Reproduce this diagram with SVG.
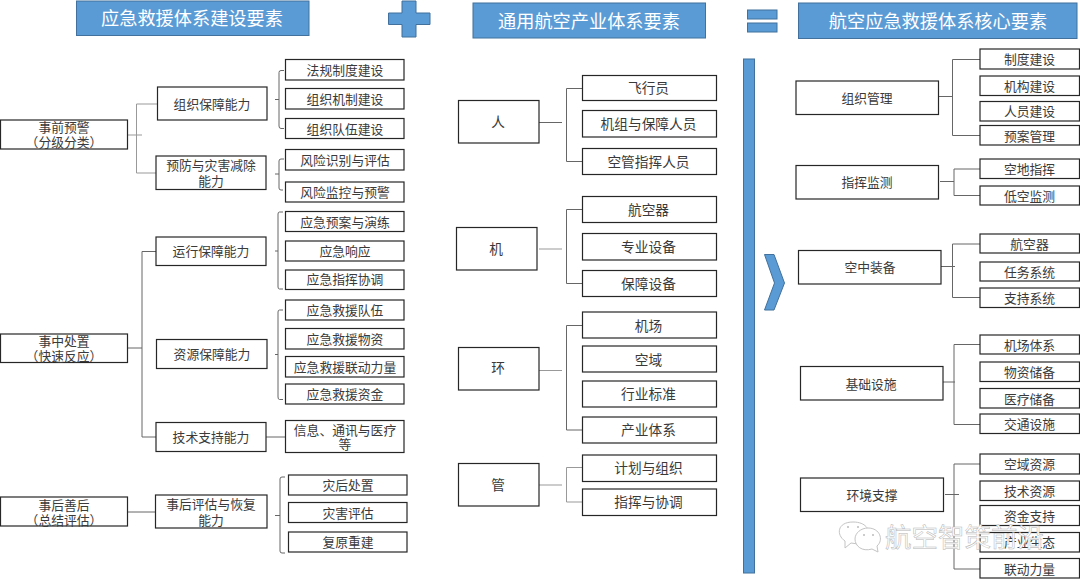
<svg xmlns="http://www.w3.org/2000/svg" width="1080" height="584" viewBox="0 0 1080 584">
<style>
text{font-family:"Liberation Sans","Noto Sans CJK SC",sans-serif;font-size:12.8px;fill:#3a3a3a;text-anchor:middle}
.n rect{fill:#fff;stroke:#262626;stroke-width:1.2}
.m text{font-size:13.7px}
.h rect{fill:#5b9bd5;stroke:#41719c;stroke-width:1}
.h text{font-size:18.2px;fill:#fff}
.b{fill:#5b9bd5;stroke:#41719c;stroke-width:1}
#connectors path{fill:none;stroke:#666;stroke-width:1}
#connectors path.g{stroke:#999}
.wm{font-size:26.5px;fill:#fff;stroke:#b5b5b5;stroke-width:.5;text-anchor:start}
.w{fill:#fff;stroke:#c4c4c4;stroke-width:1}
.d{fill:#bbb}
</style>
<rect width="1080" height="584" fill="#fff"/>
<g class="h" id="h1"><rect x="76.500" y="1" width="232.500" height="34.500"/><text x="192" y="25">应急救援体系建设要素</text></g>
<g class="h" id="h2"><rect x="473" y="3" width="232.500" height="35"/><text x="589" y="28">通用航空产业体系要素</text></g>
<g class="h" id="h3"><rect x="798.500" y="3" width="278.500" height="35.500"/><text x="938" y="28">航空应急救援体系核心要素</text></g>
<path id="plus" class="b" d="M402 1H416V13H430V24.500H416V37H402V24.500H388.500V13H402Z"/>
<g id="equals"><rect class="b" x="747.500" y="10" width="29.500" height="9"/><rect class="b" x="747.500" y="23" width="29.500" height="9"/></g>
<rect id="bar" class="b" x="743.500" y="59" width="11" height="514"/>
<path id="chevron" class="b" d="M764.500 254.500H774L784.500 283L774 310H764.500L774.500 283Z"/>

<g id="connectors">
<path d="M127.500 135H142M136.500 104V173M136.500 104H157.500M136.500 173H156" class="g"/>
<path d="M127.500 348H142M142 251.500V437M142 251.500H156M142 437H156"/>
<path d="M127.500 512H155"/>
<path d="M275 99.500H279M284 70.500H281Q279 70.500 279 72.500V126Q279 128.500 281 128.500H284"/>
<path d="M275 174H279M284 159H281Q279 159 279 161V188Q279 190 281 190H283"/>
<path d="M275 251H278M283 212H279.500Q278 212 278 214V287Q278 289 279.500 289H283"/>
<path d="M275 354.500H278M283 310H279.500Q278 310 278 312V397Q278 399.500 279.500 399.500H283"/>
<path d="M266 437H285.500"/>
<path d="M275 515.500H280M285 477H282Q280 477 280 479V551Q280 553 282 553H285"/>
<path d="M539 122.500H562M584 88.500H566.500V161.500H582"/>
<path class="g" d="M539 249H562"/>
<path d="M584 209.500H566.500V283.500H582"/>
<path class="g" d="M539 370.500H562"/>
<path d="M584 325.500H566.500V430H582"/>
<path class="g" d="M539 485H562M584 467.500H566.500V502H582"/>
<path d="M939 96.500H952M980 59.500H952.500V135.500H980"/>
<path d="M940 181.500H954M982 169H954V195.500H980"/>
<path d="M941 266.500H955M980 244H952.500V297.500H984"/>
<path d="M943 382H955M980 344.500H954V424.500H980"/>
<path d="M945 494.500H959M982 464H954V569H980"/>
</g>

<g class="n" id="n1"><rect x="0.500" y="120" width="127" height="29"/><text x="64" y="132">事前预警</text><text x="64" y="147">（分级分类）</text></g>
<g class="n" id="n2"><rect x="0.500" y="334" width="127" height="28.500"/><text x="64" y="346">事中处置</text><text x="64" y="361">（快速反应）</text></g>
<g class="n" id="n3"><rect x="0.500" y="497" width="127" height="29"/><text x="64" y="510">事后善后</text><text x="64" y="525">（总结评估）</text></g>
<g class="n" id="n4"><rect x="157.500" y="87" width="109.500" height="33"/><text x="212" y="109">组织保障能力</text></g>
<g class="n" id="n5"><rect x="156" y="156" width="110" height="33.500"/><text x="211" y="170">预防与灾害减除</text><text x="211" y="186">能力</text></g>
<g class="n" id="n6"><rect x="156" y="237" width="110" height="28.500"/><text x="211" y="256">运行保障能力</text></g>
<g class="n" id="n7"><rect x="156.500" y="339.500" width="110.500" height="29"/><text x="212" y="359">资源保障能力</text></g>
<g class="n" id="n8"><rect x="156" y="422.500" width="110" height="29"/><text x="211" y="442">技术支持能力</text></g>
<g class="n" id="n9"><rect x="155.500" y="495" width="111.500" height="33"/><text x="211" y="509">事后评估与恢复</text><text x="211" y="525">能力</text></g>
<g class="n" id="n10"><rect x="285.500" y="59.500" width="118.500" height="20.500"/><text x="345" y="75">法规制度建设</text></g>
<g class="n" id="n11"><rect x="285.500" y="88.500" width="118.500" height="20.500"/><text x="345" y="104">组织机制建设</text></g>
<g class="n" id="n12"><rect x="285.500" y="118.500" width="118.500" height="20"/><text x="345" y="134">组织队伍建设</text></g>
<g class="n" id="n13"><rect x="285.500" y="149.500" width="118.500" height="20.500"/><text x="345" y="165">风险识别与评估</text></g>
<g class="n" id="n14"><rect x="285.500" y="182" width="118.500" height="20"/><text x="345" y="197">风险监控与预警</text></g>
<g class="n" id="n15"><rect x="285.500" y="211.500" width="118.500" height="20"/><text x="345" y="227">应急预案与演练</text></g>
<g class="n" id="n16"><rect x="285.500" y="241" width="118.500" height="20"/><text x="345" y="256">应急响应</text></g>
<g class="n" id="n17"><rect x="285.500" y="270" width="118.500" height="19.500"/><text x="345" y="284">应急指挥协调</text></g>
<g class="n" id="n18"><rect x="285.500" y="300" width="118.500" height="20"/><text x="345" y="315">应急救援队伍</text></g>
<g class="n" id="n19"><rect x="285.500" y="328.500" width="118.500" height="20.500"/><text x="345" y="344">应急救援物资</text></g>
<g class="n" id="n20"><rect x="285.500" y="356.500" width="118.500" height="20.500"/><text x="345" y="372">应急救援联动力量</text></g>
<g class="n" id="n21"><rect x="285.500" y="384" width="118.500" height="20"/><text x="345" y="399">应急救援资金</text></g>
<g class="n" id="n22"><rect x="285.500" y="420.500" width="118.500" height="32"/><text x="345" y="435">信息、通讯与医疗</text><text x="345" y="449">等</text></g>
<g class="n" id="n23"><rect x="288.500" y="475" width="118.500" height="20"/><text x="348" y="490">灾后处置</text></g>
<g class="n" id="n24"><rect x="288.500" y="502.500" width="118.500" height="20"/><text x="348" y="518">灾害评估</text></g>
<g class="n" id="n25"><rect x="288.500" y="532" width="118.500" height="20"/><text x="348" y="547">复原重建</text></g>

<g class="n m" id="m1"><rect x="458.500" y="100.500" width="80.500" height="42.500"/><text x="498" y="127">人</text></g>
<g class="n m" id="m2"><rect x="456.500" y="227.500" width="80.500" height="42.500"/><text x="496" y="254">机</text></g>
<g class="n m" id="m3"><rect x="458.500" y="347.500" width="80.500" height="42.500"/><text x="498" y="373">环</text></g>
<g class="n m" id="m4"><rect x="458.500" y="463.500" width="80.500" height="42.500"/><text x="498" y="490">管</text></g>
<g class="n m" id="m5"><rect x="582.500" y="75.500" width="134" height="25"/><text x="648.500" y="93">飞行员</text></g>
<g class="n m" id="m6"><rect x="582.500" y="110.500" width="134" height="26.500"/><text x="648.500" y="129">机组与保障人员</text></g>
<g class="n m" id="m7"><rect x="582.500" y="148.500" width="134" height="26"/><text x="648.500" y="167">空管指挥人员</text></g>
<g class="n m" id="m8"><rect x="582.500" y="196.500" width="134" height="26"/><text x="648.500" y="215">航空器</text></g>
<g class="n m" id="m9"><rect x="582.500" y="233.500" width="134" height="26.500"/><text x="648.500" y="252">专业设备</text></g>
<g class="n m" id="m10"><rect x="582.500" y="270.500" width="134" height="26"/><text x="648.500" y="289">保障设备</text></g>
<g class="n m" id="m11"><rect x="582.500" y="312" width="134" height="26"/><text x="648.500" y="330.500">机场</text></g>
<g class="n m" id="m12"><rect x="582.500" y="346" width="134" height="26"/><text x="648.500" y="364.500">空域</text></g>
<g class="n m" id="m13"><rect x="582.500" y="381" width="134" height="26"/><text x="648.500" y="399">行业标准</text></g>
<g class="n m" id="m14"><rect x="582.500" y="417" width="134" height="26"/><text x="648.500" y="435">产业体系</text></g>
<g class="n m" id="m15"><rect x="582.500" y="455" width="134" height="26.500"/><text x="648.500" y="473">计划与组织</text></g>
<g class="n m" id="m16"><rect x="582.500" y="489" width="134" height="26.500"/><text x="648.500" y="507">指挥与协调</text></g>

<g class="n" id="r1"><rect x="796" y="81" width="142.500" height="33.500"/><text x="867" y="103">组织管理</text></g>
<g class="n" id="r2"><rect x="796" y="165.500" width="142.500" height="33.500"/><text x="867" y="187">指挥监测</text></g>
<g class="n" id="r3"><rect x="798.500" y="250.500" width="142.500" height="33.500"/><text x="870" y="272">空中装备</text></g>
<g class="n" id="r4"><rect x="800.500" y="366.500" width="142.500" height="33.500"/><text x="871" y="388.500">基础设施</text></g>
<g class="n" id="r5"><rect x="800.500" y="478" width="143" height="33.500"/><text x="872" y="500">环境支撑</text></g>
<g class="n" id="r6"><rect x="980" y="49" width="99.500" height="20"/><text x="1029.500" y="64">制度建设</text></g>
<g class="n" id="r7"><rect x="980" y="76" width="99.500" height="19.500"/><text x="1029.500" y="91">机构建设</text></g>
<g class="n" id="r8"><rect x="980" y="101.500" width="99.500" height="19.500"/><text x="1029.500" y="116">人员建设</text></g>
<g class="n" id="r9"><rect x="980" y="125.500" width="99.500" height="19.500"/><text x="1029.500" y="141">预案管理</text></g>
<g class="n" id="r10"><rect x="980" y="159" width="99.500" height="19.500"/><text x="1029.500" y="173.500">空地指挥</text></g>
<g class="n" id="r11"><rect x="980" y="186" width="99.500" height="19"/><text x="1029.500" y="200.500">低空监测</text></g>
<g class="n" id="r12"><rect x="980" y="234" width="99.500" height="19"/><text x="1029.500" y="248.500">航空器</text></g>
<g class="n" id="r13"><rect x="980" y="262" width="99.500" height="19"/><text x="1029.500" y="276.500">任务系统</text></g>
<g class="n" id="r14"><rect x="980" y="288" width="99.500" height="19.500"/><text x="1029.500" y="302.500">支持系统</text></g>
<g class="n" id="r15"><rect x="980" y="335" width="99.500" height="19"/><text x="1029.500" y="349.500">机场体系</text></g>
<g class="n" id="r16"><rect x="980" y="362" width="99.500" height="19.500"/><text x="1029.500" y="377">物资储备</text></g>
<g class="n" id="r17"><rect x="980" y="388.500" width="99.500" height="19.500"/><text x="1029.500" y="403.500">医疗储备</text></g>
<g class="n" id="r18"><rect x="980" y="414" width="99.500" height="19.500"/><text x="1029.500" y="429">交通设施</text></g>
<g class="n" id="r19"><rect x="980" y="454" width="99.500" height="20"/><text x="1029.500" y="469">空域资源</text></g>
<g class="n" id="r20"><rect x="980" y="481" width="99.500" height="19.500"/><text x="1029.500" y="495.500">技术资源</text></g>
<g class="n" id="r21"><rect x="980" y="505.500" width="99.500" height="20"/><text x="1029.500" y="520.500">资金支持</text></g>
<g class="n" id="r22"><rect x="980" y="532.500" width="99.500" height="19.500"/><text x="1029.500" y="547">产业生态</text></g>
<g class="n" id="r23"><rect x="980" y="558.500" width="99.500" height="19.500"/><text x="1029.500" y="573.500">联动力量</text></g>

<g id="watermark">
<path class="w" d="M845 541C836 535 837 522 853 522C866 522 870 530 868 535L858 544L851 543L845 548Z"/>
<path class="w" d="M868 528C880 528 884 540 877 546L878 552L872 549C862 552 855 546 855 539C855 533 861 528 868 528Z"/>
<circle class="d" cx="848" cy="527" r="1"/><circle class="d" cx="858" cy="527" r="1"/>
<circle class="d" cx="864" cy="535" r="1"/><circle class="d" cx="873" cy="535" r="1"/>
<text class="wm" x="885" y="547">航空智策前沿</text>
</g>
</svg>
